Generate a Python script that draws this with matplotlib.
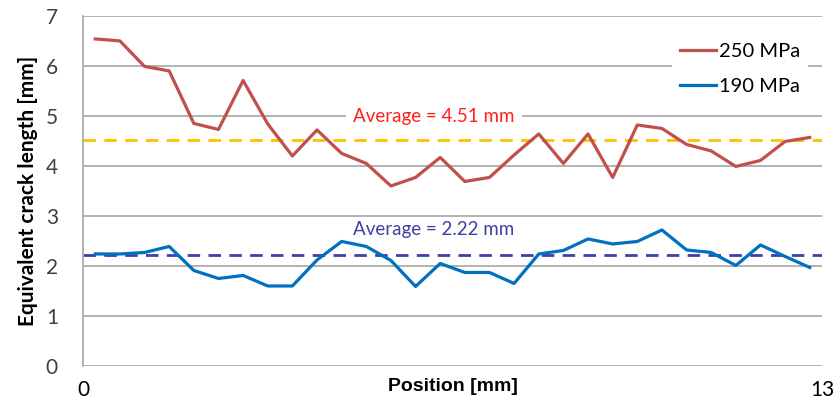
import matplotlib.pyplot as plt

# crack length readings along the specimen (30 measuring points)
red_250 = [6.54, 6.50, 5.99, 5.90, 4.85, 4.73, 5.71, 4.84, 4.20, 4.72,
           4.25, 4.05, 3.60, 3.77, 4.17, 3.69, 3.77, 4.22, 4.64, 4.05,
           4.64, 3.77, 4.82, 4.75, 4.43, 4.30, 3.99, 4.11, 4.49, 4.57]
blue_190 = [2.24, 2.24, 2.27, 2.39, 1.91, 1.75, 1.81, 1.60, 1.60, 2.12,
            2.49, 2.39, 2.11, 1.59, 2.05, 1.87, 1.87, 1.65, 2.24, 2.31,
            2.54, 2.44, 2.49, 2.72, 2.32, 2.27, 2.01, 2.42, 2.19, 1.97]
points = list(range(len(red_250)))
avg_250 = 4.51
avg_190 = 2.22
x_labels = ['0', '13']

plt.rcParams['font.family'] = ['Lato', 'DejaVu Sans']

fig = plt.figure(figsize=(8.38, 4.01), dpi=100)
ax = fig.add_axes([0.099, 0.0873, 0.882, 0.873])

# Excel style category axis
ax.set_xlim(-0.5, len(points) - 0.5)
ax.set_ylim(0, 7)
ax.set_yticks(range(0, 8))
ax.grid(axis='y', color='#a6a6a6', lw=1.2)
ax.set_axisbelow(True)
for s in ['top', 'right', 'bottom']:
    ax.spines[s].set_visible(False)
ax.spines['left'].set_color('#a6a6a6')
ax.spines['left'].set_linewidth(1.2)
ax.tick_params(axis='y', length=0, labelsize=15, pad=18, labelcolor='#404040')
ax.tick_params(axis='x', length=0, labelsize=15, pad=10)
ax.set_xticks([-0.5, len(points) - 0.5], x_labels)

ax.axhline(avg_250, color='#ffc000', lw=2.0, dashes=(4.5, 3.0), zorder=2)
ax.axhline(avg_190, color='#3f3fa8', lw=2.0, dashes=(4.5, 3.0), zorder=2)

ax.plot(points, red_250, color='#c0504d', lw=2.3, label='250 MPa', zorder=3)
ax.plot(points, blue_190, color='#0070c0', lw=2.3, label='190 MPa', zorder=3)

ax.text(13.75, 4.98, 'Average = {:.2f} mm'.format(avg_250), color='#ff2020',
        fontsize=13.5, ha='center', va='center', zorder=2,
        bbox=dict(facecolor='white', edgecolor='none', pad=5))
ax.text(13.75, 2.72, 'Average = {:.2f} mm'.format(avg_190), color='#4040a0',
        fontsize=13.5, ha='center', va='center', zorder=2)

leg = ax.legend(loc='upper right', bbox_to_anchor=(0.995, 0.975), frameon=True,
                fontsize=14.5, handlelength=1.8, handletextpad=0.15,
                labelspacing=0.9, borderpad=0.4, fancybox=False)
leg.get_frame().set_edgecolor('none')
leg.get_frame().set_facecolor('white')
leg.get_frame().set_alpha(1)

ax.set_ylabel('Equivalent crack length [mm]', fontsize=15, fontweight='bold', labelpad=6)
ax.set_xlabel('Position [mm]', fontsize=14, fontweight='bold',
              family=['Liberation Sans', 'DejaVu Sans'], labelpad=-16)

fig.savefig('out.png', dpi=100)
